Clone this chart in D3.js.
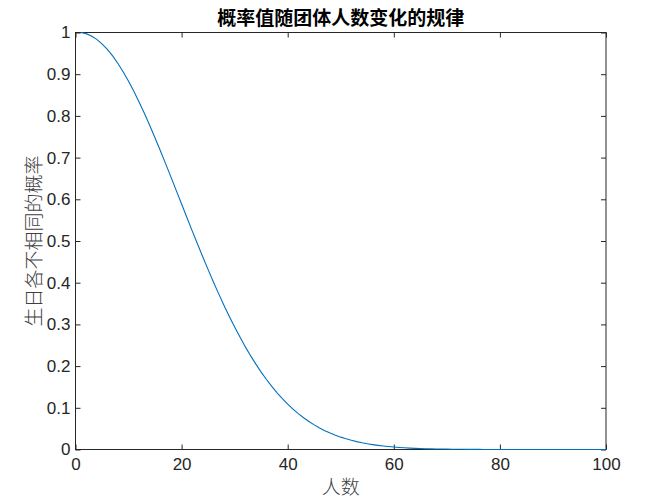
<!DOCTYPE html>
<html><head><meta charset="utf-8">
<script src="https://cdn.jsdelivr.net/npm/d3@7"></script>
<style>body{margin:0;background:#fff}svg{display:block}</style>
</head><body>
<script>
const title = "概率值随团体人数变化的规律";
const xLabel = "人数";
const yLabel = "生日各不相同的概率";
const xTicks = [0,20,40,60,80,100];
const yTicks = [0,0.1,0.2,0.3,0.4,0.5,0.6,0.7,0.8,0.9,1];
const people = d3.range(1,101);
const prob = [1,0.99726,0.99180,0.98364,0.97286,0.95954,0.94376,0.92566,0.90538,0.88305,
0.85886,0.83298,0.80559,0.77690,0.74710,0.71640,0.68499,0.65309,0.62088,0.58856,
0.55631,0.52430,0.49270,0.46166,0.43130,0.40176,0.37314,0.34554,0.31903,0.29368,
0.26955,0.24665,0.22503,0.20468,0.18562,0.16782,0.15127,0.13593,0.12178,0.10877,
0.09685,0.08597,0.07608,0.06712,0.05902,0.05175,0.04523,0.03940,0.03422,0.02963,
0.02557,0.02200,0.01886,0.01612,0.01374,0.01167,0.00988,0.00834,0.00701,0.00588,
0.004914,0.004093,0.003398,0.002811,0.002318,0.001905,0.001561,0.001274,0.001037,0.000841,
0.000680,0.000548,0.000440,0.000352,0.000280,0.000223,0.000176,0.000139,0.000110,0.0000859,
0.0000671,0.0000522,0.0000405,0.0000313,0.0000241,0.0000185,0.0000142,0.0000108,0.0000082,0.0000062,
0.0000047,0.0000035,0.0000026,0.0000020,0.0000015,0.0000011,0.0000008,0.0000006,0.0000004,0.0000003];

const W=658,H=503;
const m={l:75.5,r:606,t:32.5,b:449.5};
const svg=d3.select("body").append("svg").attr("width",W).attr("height",H);
const x=d3.scaleLinear().domain([0,100]).range([m.l,m.r]);
const y=d3.scaleLinear().domain([0,1]).range([m.b,m.t]);
const tc="#262626";
const tickFont="Liberation Sans, Arial, sans-serif";

svg.append("rect").attr("x",m.l).attr("y",m.t).attr("width",m.r-m.l).attr("height",m.b-m.t)
  .attr("fill","none").attr("stroke",tc).attr("stroke-width",1);

const gx=svg.append("g").attr("transform",`translate(0,${m.b})`)
  .call(d3.axisBottom(x).tickValues(xTicks).tickSize(-5).tickPadding(8).tickFormat(d3.format("d")));
const gxt=svg.append("g").attr("transform",`translate(0,${m.t})`)
  .call(d3.axisTop(x).tickValues(xTicks).tickSize(-5).tickFormat(""));
const gy=svg.append("g").attr("transform",`translate(${m.l},0)`)
  .call(d3.axisLeft(y).tickValues(yTicks).tickSize(-5).tickPadding(5).tickFormat(d=>d3.format("~g")(d)));
const gyr=svg.append("g").attr("transform",`translate(${m.r},0)`)
  .call(d3.axisRight(y).tickValues(yTicks).tickSize(-5).tickFormat(""));
[gx,gxt,gy,gyr].forEach(g=>{
  g.select(".domain").remove();
  g.selectAll("line").attr("stroke",tc);
  g.selectAll("text").attr("fill",tc).style("font-family",tickFont).style("font-size","17px");
});

svg.append("path").datum(people.map((p,i)=>[p,prob[i]]))
  .attr("fill","none").attr("stroke","#0072BD").attr("stroke-width",1.1)
  .attr("d",d3.line().x(d=>x(d[0])).y(d=>y(d[1])));

svg.append("text").attr("x",(m.l+m.r)/2).attr("y",25).attr("text-anchor","middle")
  .attr("fill","#000").style("font-family","Noto Sans CJK SC").style("font-weight","bold")
  .style("font-size","19px").text(title);
svg.append("text").attr("x",(m.l+m.r)/2).attr("y",494).attr("text-anchor","middle")
  .attr("fill","#404040").style("font-family","Noto Sans CJK SC").style("font-weight","300").style("font-size","19px").text(xLabel);
svg.append("text").attr("transform",`translate(41,${(m.t+m.b)/2}) rotate(-90)`).attr("text-anchor","middle")
  .attr("fill","#404040").style("font-family","Noto Sans CJK SC").style("font-weight","300").style("font-size","19px").text(yLabel);
</script>
</body></html>
